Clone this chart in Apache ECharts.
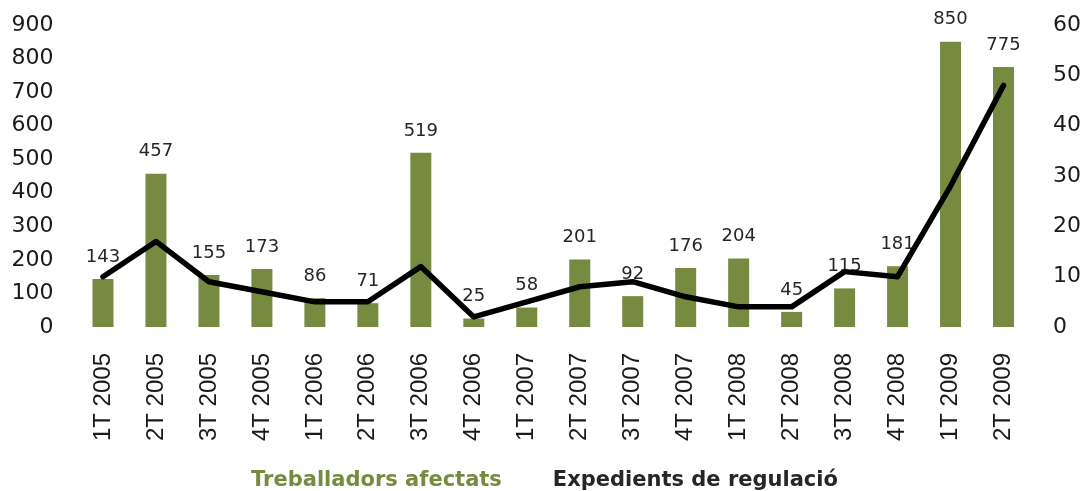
<!DOCTYPE html>
<html lang="ca">
<head>
    <meta charset="UTF-8">
    <title>Treballadors afectats i expedients de regulació</title>
    <script src="https://cdn.jsdelivr.net/npm/echarts@6/dist/echarts.min.js"></script>
    <style>
        html, body { margin: 0; padding: 0; background: #fff; }
    </style>
</head>
<body>
    <div id="main" style="width: 1084px; height: 491px;"></div>
    <script>
        // trimestres
        const quarters = ['1T 2005', '2T 2005', '3T 2005', '4T 2005', '1T 2006', '2T 2006', '3T 2006', '4T 2006',
            '1T 2007', '2T 2007', '3T 2007', '4T 2007', '1T 2008', '2T 2008', '3T 2008', '4T 2008', '1T 2009', '2T 2009']
        // treballadors afectats (barres, eix esquerre)
        const workers = [143, 457, 155, 173, 86, 71, 519, 25, 58, 201, 92, 176, 204, 45, 115, 181, 850, 775]
        // expedients de regulació (línia, eix dret) - llegit del gràfic
        const expedients = [10, 17, 9, 7, 5, 5, 12, 2, 5, 8, 9, 6, 4, 4, 11, 10, 28, 48]

        const green = '#778b40'
        const textColor = '#1a1a1a'

        const chart = echarts.init(document.getElementById('main'))

        const option = {
            animation: false,
            grid: {
                left: 76.5,
                right: 54,
                top: 25,
                bottom: 164,
                containLabel: false,
                outerBoundsMode: 'none'
            },
            legend: {
                left: 'center',
                top: 465,
                itemWidth: 0,
                itemHeight: 0,
                itemGap: 45,
                selectedMode: false,
                textStyle: {
                    fontFamily: 'DejaVu Sans',
                    fontWeight: 'bold',
                    fontSize: 21
                },
                data: [
                    { name: 'Treballadors afectats', textStyle: { color: green } },
                    { name: 'Expedients de regulació', textStyle: { color: '#262626' } }
                ]
            },
            xAxis: {
                type: 'category',
                data: quarters,
                axisLine: { show: false },
                axisTick: { show: false },
                axisLabel: {
                    rotate: 90,
                    margin: 26,
                    interval: 0,
                    color: textColor,
                    fontFamily: 'Liberation Sans',
                    fontSize: 24
                }
            },
            yAxis: [
                {
                    type: 'value',
                    min: 0,
                    max: 900,
                    interval: 100,
                    splitLine: { show: false },
                    axisLine: { show: false },
                    axisTick: { show: false },
                    axisLabel: {
                        margin: 23,
                        color: textColor,
                        fontFamily: 'DejaVu Sans',
                        fontSize: 22
                    }
                },
                {
                    type: 'value',
                    min: 0,
                    max: 60,
                    interval: 10,
                    splitLine: { show: false },
                    axisLine: { show: false },
                    axisTick: { show: false },
                    axisLabel: {
                        margin: 23,
                        color: textColor,
                        fontFamily: 'DejaVu Sans',
                        fontSize: 22
                    }
                }
            ],
            series: [
                {
                    name: 'Treballadors afectats',
                    type: 'bar',
                    data: workers,
                    barWidth: 21,
                    itemStyle: { color: green },
                    label: {
                        show: true,
                        position: 'top',
                        distance: 13,
                        color: '#262626',
                        fontFamily: 'DejaVu Sans',
                        fontSize: 18
                    }
                },
                {
                    name: 'Expedients de regulació',
                    type: 'line',
                    yAxisIndex: 1,
                    data: expedients,
                    symbol: 'none',
                    itemStyle: { color: '#000' },
                    lineStyle: { color: '#000', width: 5.5, cap: 'round', join: 'round' },
                    z: 3
                }
            ]
        }

        chart.setOption(option)
    </script>
</body>
</html>
